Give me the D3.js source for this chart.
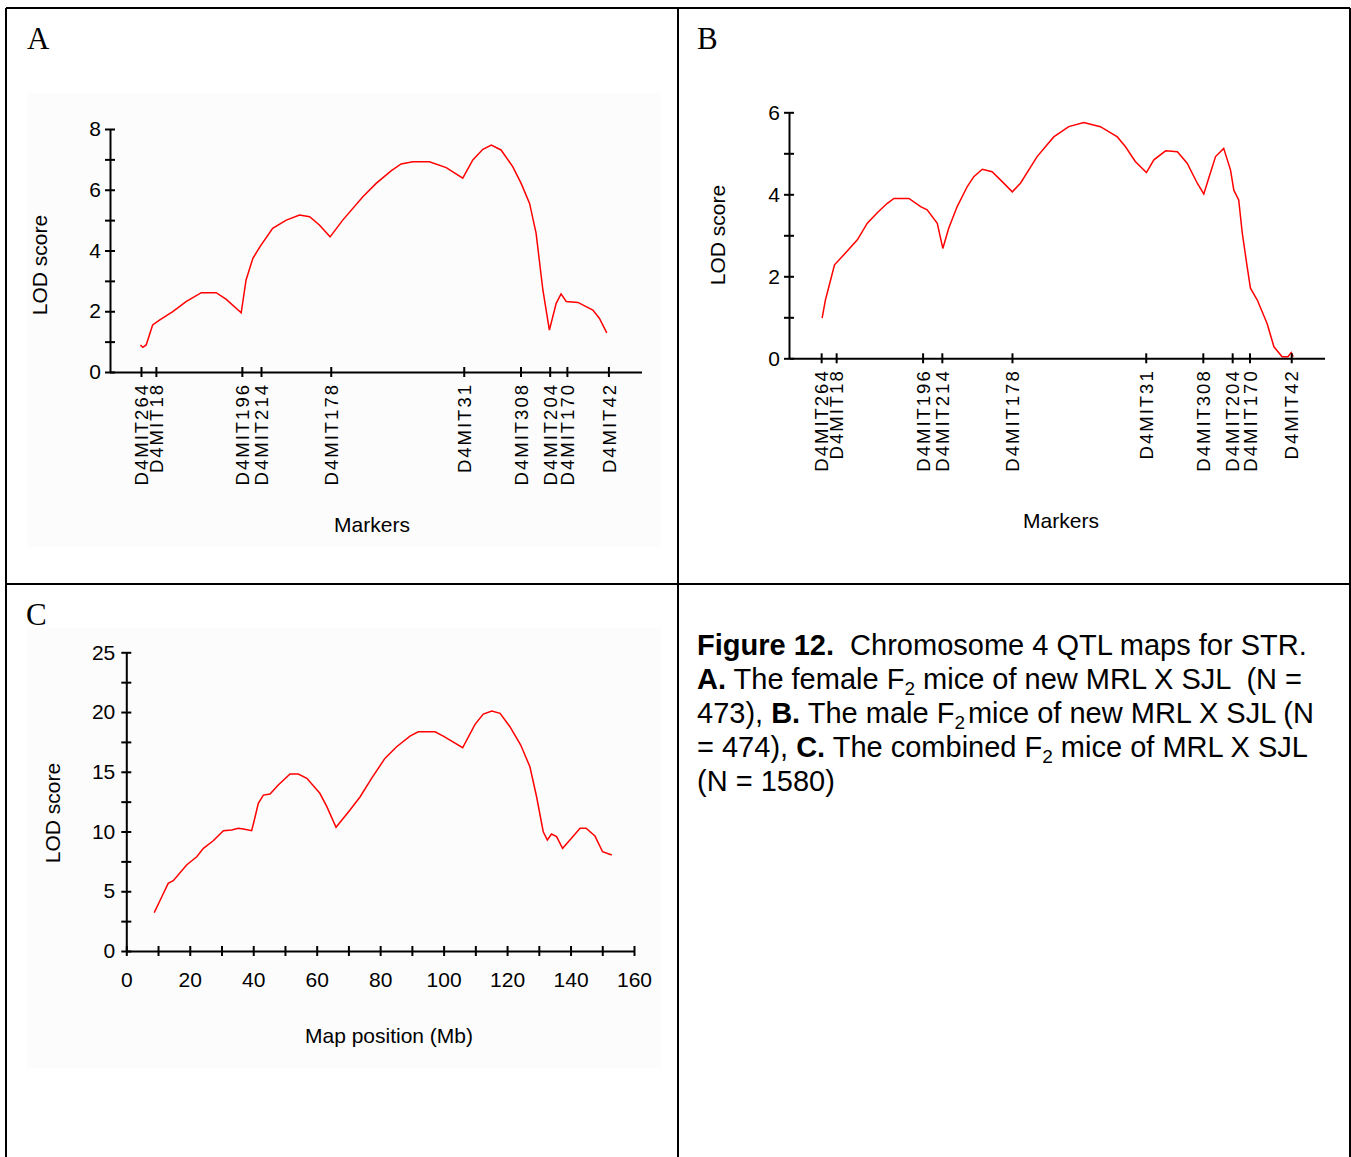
<!DOCTYPE html>
<html>
<head>
<meta charset="utf-8">
<script src="https://cdn.jsdelivr.net/npm/d3@7/dist/d3.min.js"></script>
<style>
  html, body { margin: 0; padding: 0; background: #fff; }
  svg { display: block; }
  .tick text { font-family: "Liberation Sans", Arial, sans-serif; fill: #000; }
</style>
</head>
<body>
<svg id="fig" width="1351" height="1157"></svg>
<script>
// Chromosome 4 marker names and their map positions (Mb)
const markerNames = ["D4MIT264", "D4MIT18", "D4MIT196", "D4MIT214", "D4MIT178",
                     "D4MIT31", "D4MIT308", "D4MIT204", "D4MIT170", "D4MIT42"];
const markerMb = [9.7, 14.3, 40.8, 46.7, 68.2, 109.2, 126.7, 135.7, 141.0, 153.8];

// A: female F2 LOD profile
const femalePos = [9.5, 10.3, 11.3, 13.3, 15.4, 19.5, 23.6, 28.3, 32.9, 36.0, 40.6, 42.1, 44.2,
                   46.4, 50.3, 54.5, 58.6, 61.7, 64.7, 68.0, 71.9, 78.1, 82.2, 86.8, 89.9,
                   93.5, 98.6, 103.8, 108.9, 112.0, 115.1, 117.7, 120.7, 124.3, 126.9,
                   129.5, 131.5, 133.6, 135.6, 137.7, 139.2, 140.8, 144.4, 149.0, 151.0, 153.3];
const femaleLod = [0.89, 0.81, 0.89, 1.55, 1.71, 1.99, 2.32, 2.61, 2.61, 2.39, 1.95, 3.03, 3.74,
                   4.13, 4.73, 5.00, 5.17, 5.11, 4.84, 4.45, 5.00, 5.77, 6.21, 6.62, 6.85,
                   6.92, 6.92, 6.73, 6.38, 6.98, 7.33, 7.47, 7.31, 6.76, 6.21,
                   5.55, 4.57, 2.70, 1.38, 2.26, 2.57, 2.32, 2.29, 2.04, 1.77, 1.29];

// B: male F2 LOD profile
const malePos = [10.0, 11.0, 12.6, 13.8, 16.6, 20.8, 23.8, 26.9, 30.0, 32.0, 36.6, 40.2, 42.2,
                 45.3, 47.0, 48.8, 51.4, 54.5, 56.5, 59.1, 62.1, 65.2, 68.3, 70.8, 75.9,
                 81.0, 85.6, 90.2, 95.3, 100.5, 103.0, 106.0, 109.4, 111.7, 115.3, 118.9,
                 121.9, 125.0, 127.0, 128.5, 130.6, 133.1, 135.2, 136.2, 137.7, 138.8,
                 140.3, 141.3, 143.4, 146.4, 148.5, 151.0, 152.8, 153.8, 154.4];
const maleLod = [0.98, 1.42, 1.91, 2.28, 2.52, 2.89, 3.29, 3.55, 3.78, 3.90, 3.90, 3.70, 3.62,
                 3.29, 2.68, 3.17, 3.70, 4.19, 4.43, 4.61, 4.55, 4.31, 4.06, 4.27, 4.92,
                 5.40, 5.65, 5.75, 5.65, 5.40, 5.16, 4.80, 4.53, 4.84, 5.06, 5.04,
                 4.76, 4.27, 4.01, 4.39, 4.92, 5.12, 4.59, 4.10, 3.86, 3.05,
                 2.23, 1.71, 1.42, 0.85, 0.28, 0.04, 0.04, 0.14, 0.04];

// C: combined F2 LOD profile
const combinedPos = [8.8, 11.2, 13.2, 14.8, 19.0, 22.2, 24.3, 27.4, 30.6, 33.2, 35.3, 36.9, 39.5,
                     40.6, 41.6, 43.2, 45.3, 47.9, 51.6, 54.2, 56.9, 61.0, 63.2, 66.1, 70.5,
                     73.7, 77.3, 81.5, 85.2, 89.4, 92.0, 97.3, 99.9, 106.0, 109.9, 112.5,
                     115.2, 117.8, 120.9, 124.3, 127.2, 129.3, 131.4, 132.7, 134.0, 135.6,
                     137.5, 139.8, 143.0, 144.9, 147.7, 150.1, 153.0];
const combinedLod = [3.21, 4.54, 5.66, 5.88, 7.20, 7.89, 8.59, 9.23, 10.07, 10.13, 10.27, 10.21, 10.07,
                     11.24, 12.36, 13.05, 13.14, 13.89, 14.81, 14.81, 14.45, 13.20, 12.08, 10.35, 11.80,
                     12.91, 14.45, 16.12, 17.10, 17.99, 18.35, 18.35, 17.99, 17.01, 18.97, 19.83,
                     20.08, 19.89, 18.77, 17.24, 15.42, 12.91, 9.98, 9.29, 9.79, 9.57,
                     8.59, 9.29, 10.27, 10.27, 9.62, 8.31, 8.03];

// Axis tick values
const ticksA = [0, 1, 2, 3, 4, 5, 6, 7, 8];
const ticksB = [0, 1, 2, 3, 4, 5, 6];
const ticksCy = [0, 2.5, 5, 7.5, 10, 12.5, 15, 17.5, 20, 22.5, 25];
const ticksCx = [0, 10, 20, 30, 40, 50, 60, 70, 80, 90, 100, 110, 120, 130, 140, 150, 160];

const svg = d3.select("#fig");
const sans = '"Liberation Sans", Arial, sans-serif';
const serif = '"Liberation Serif", "Times New Roman", serif';

// Figure frame: outer border plus the grid dividing panels
const frame = svg.append("g").attr("stroke", "#000").attr("stroke-width", 2).attr("fill", "none");
frame.append("line").attr("x1", 6).attr("x2", 1350).attr("y1", 8).attr("y2", 8);
frame.append("line").attr("x1", 6).attr("x2", 6).attr("y1", 8).attr("y2", 1157);
frame.append("line").attr("x1", 1350).attr("x2", 1350).attr("y1", 8).attr("y2", 1157);
frame.append("line").attr("x1", 678).attr("x2", 678).attr("y1", 8).attr("y2", 1157);
frame.append("line").attr("x1", 6).attr("x2", 1350).attr("y1", 584).attr("y2", 584);

// faint plot backgrounds
svg.append("rect").attr("x", 27).attr("y", 93).attr("width", 634).attr("height", 454).attr("fill", "#fcfcfc");
svg.append("rect").attr("x", 27).attr("y", 628).attr("width", 634).attr("height", 440).attr("fill", "#fcfcfc");

// Panel letters
[["A", 27, 49], ["B", 697, 49], ["C", 26, 625]].forEach(([t, x, y]) => {
  svg.append("text").attr("x", x).attr("y", y).attr("font-family", serif)
    .attr("font-size", 31).text(t);
});

function crossTicks(g, horizontal) {
  g.select(".domain").attr("stroke-width", 2);
  g.selectAll(".tick line").attr("stroke-width", 2)
    .attr(horizontal ? "y1" : "x1", horizontal ? -5 : 5);
}

function yAxis(x, yScale, ticks, labelEvery, fontSize, pad) {
  const g = svg.append("g").attr("transform", `translate(${x},0)`)
    .call(d3.axisLeft(yScale).tickValues(ticks).tickSize(5).tickSizeOuter(0).tickPadding(pad)
      .tickFormat(d => (d % labelEvery === 0 ? d : "")));
  g.selectAll(".tick text").attr("font-size", fontSize).attr("font-family", sans);
  crossTicks(g, false);
  return g;
}

function markerAxis(y, xScale) {
  const g = svg.append("g").attr("transform", `translate(0,${y})`)
    .call(d3.axisBottom(xScale).tickValues(markerMb).tickSize(5).tickSizeOuter(0)
      .tickFormat((d, i) => markerNames[i]));
  crossTicks(g, true);
  g.selectAll(".tick text")
    .attr("font-size", 18.5).attr("font-family", sans).attr("letter-spacing", 2)
    .attr("transform", "rotate(-90)")
    .attr("text-anchor", "end")
    .attr("x", -11).attr("y", 0).attr("dy", "0.36em");
  return g;
}

function lineOf(xs, ys, xScale, yScale) {
  return d3.line().x((d, i) => xScale(xs[i])).y((d, i) => yScale(ys[i]))(xs);
}

function title(x, y, text, rotate, size) {
  const t = svg.append("text").attr("font-family", sans).attr("font-size", size)
    .attr("text-anchor", "middle").attr("dy", "0.35em").text(text);
  if (rotate) t.attr("transform", `translate(${x},${y}) rotate(-90)`);
  else t.attr("x", x).attr("y", y);
}

// ---- Panel A ----
const xA = d3.scaleLinear().domain([0, 164]).range([109.5, 641.5]);
const yA = d3.scaleLinear().domain([0, 8]).range([372, 129]);
svg.append("path").attr("d", lineOf(femalePos, femaleLod, xA, yA))
  .attr("fill", "none").attr("stroke", "#ff0000").attr("stroke-width", 1.5);
markerAxis(372, xA);
yAxis(110, yA, ticksA, 2, 21, 4);
title(40, 265, "LOD score", true, 21);
title(372, 525, "Markers", false, 21);

// ---- Panel B ----
const xB = d3.scaleLinear().domain([0, 164]).range([789.5, 1324.5]);
const yB = d3.scaleLinear().domain([0, 6]).range([358.3, 112.3]);
svg.append("path").attr("d", lineOf(malePos, maleLod, xB, yB))
  .attr("fill", "none").attr("stroke", "#ff0000").attr("stroke-width", 1.5);
markerAxis(358.3, xB);
yAxis(789, yB, ticksB, 2, 21, 4);
title(718, 235, "LOD score", true, 21);
title(1061, 521, "Markers", false, 21);

// ---- Panel C ----
const xC = d3.scaleLinear().domain([0, 160]).range([126.3, 634]);
const yC = d3.scaleLinear().domain([0, 25]).range([951, 652.3]);
svg.append("path").attr("d", lineOf(combinedPos, combinedLod, xC, yC))
  .attr("fill", "none").attr("stroke", "#ff0000").attr("stroke-width", 1.5);
const gx = svg.append("g").attr("transform", "translate(0,951)")
  .call(d3.axisBottom(xC).tickValues(ticksCx).tickSize(5).tickSizeOuter(0).tickPadding(16)
    .tickFormat(d => (d % 20 === 0 ? d : "")));
gx.selectAll(".tick text").attr("font-size", 21).attr("font-family", sans);
crossTicks(gx, true);
yAxis(126.3, yC, ticksCy, 5, 21, 6);
title(53, 813, "LOD score", true, 21);
title(389, 1036, "Map position (Mb)", false, 21);

// ---- Caption ----
const cap = svg.append("text").attr("font-family", sans).attr("font-size", 29).attr("fill", "#000");
const capLines = [
  [["Figure 12.", true], ["  Chromosome 4 QTL maps for STR.", false]],
  [["A.", true], [" The female F", false], ["2", "sub"], [" mice of new MRL X SJL  (N =", false]],
  [["473), ", false], ["B.", true], [" The male F", false], ["2", "sub"], ["mice of new MRL X SJL (N", false]],
  [["= 474), ", false], ["C.", true], [" The combined F", false], ["2", "sub"], [" mice of MRL X SJL", false]],
  [["(N = 1580)", false]]
];
capLines.forEach((parts, li) => {
  const y = 655 + li * 34;
  parts.forEach(([txt, style], pi) => {
    const ts = cap.append("tspan").attr("xml:space", "preserve").style("white-space", "pre").text(txt);
    if (pi === 0) ts.attr("x", 697).attr("y", y);
    if (style === true) ts.attr("font-weight", "bold");
    if (style === "sub") ts.attr("font-size", 19).attr("dy", 6);
    else if (pi > 0 && parts[pi - 1][1] === "sub") ts.attr("dy", -6).attr("dx", txt.startsWith(" ") ? 0 : 3);
  });
});
</script>
</body>
</html>
